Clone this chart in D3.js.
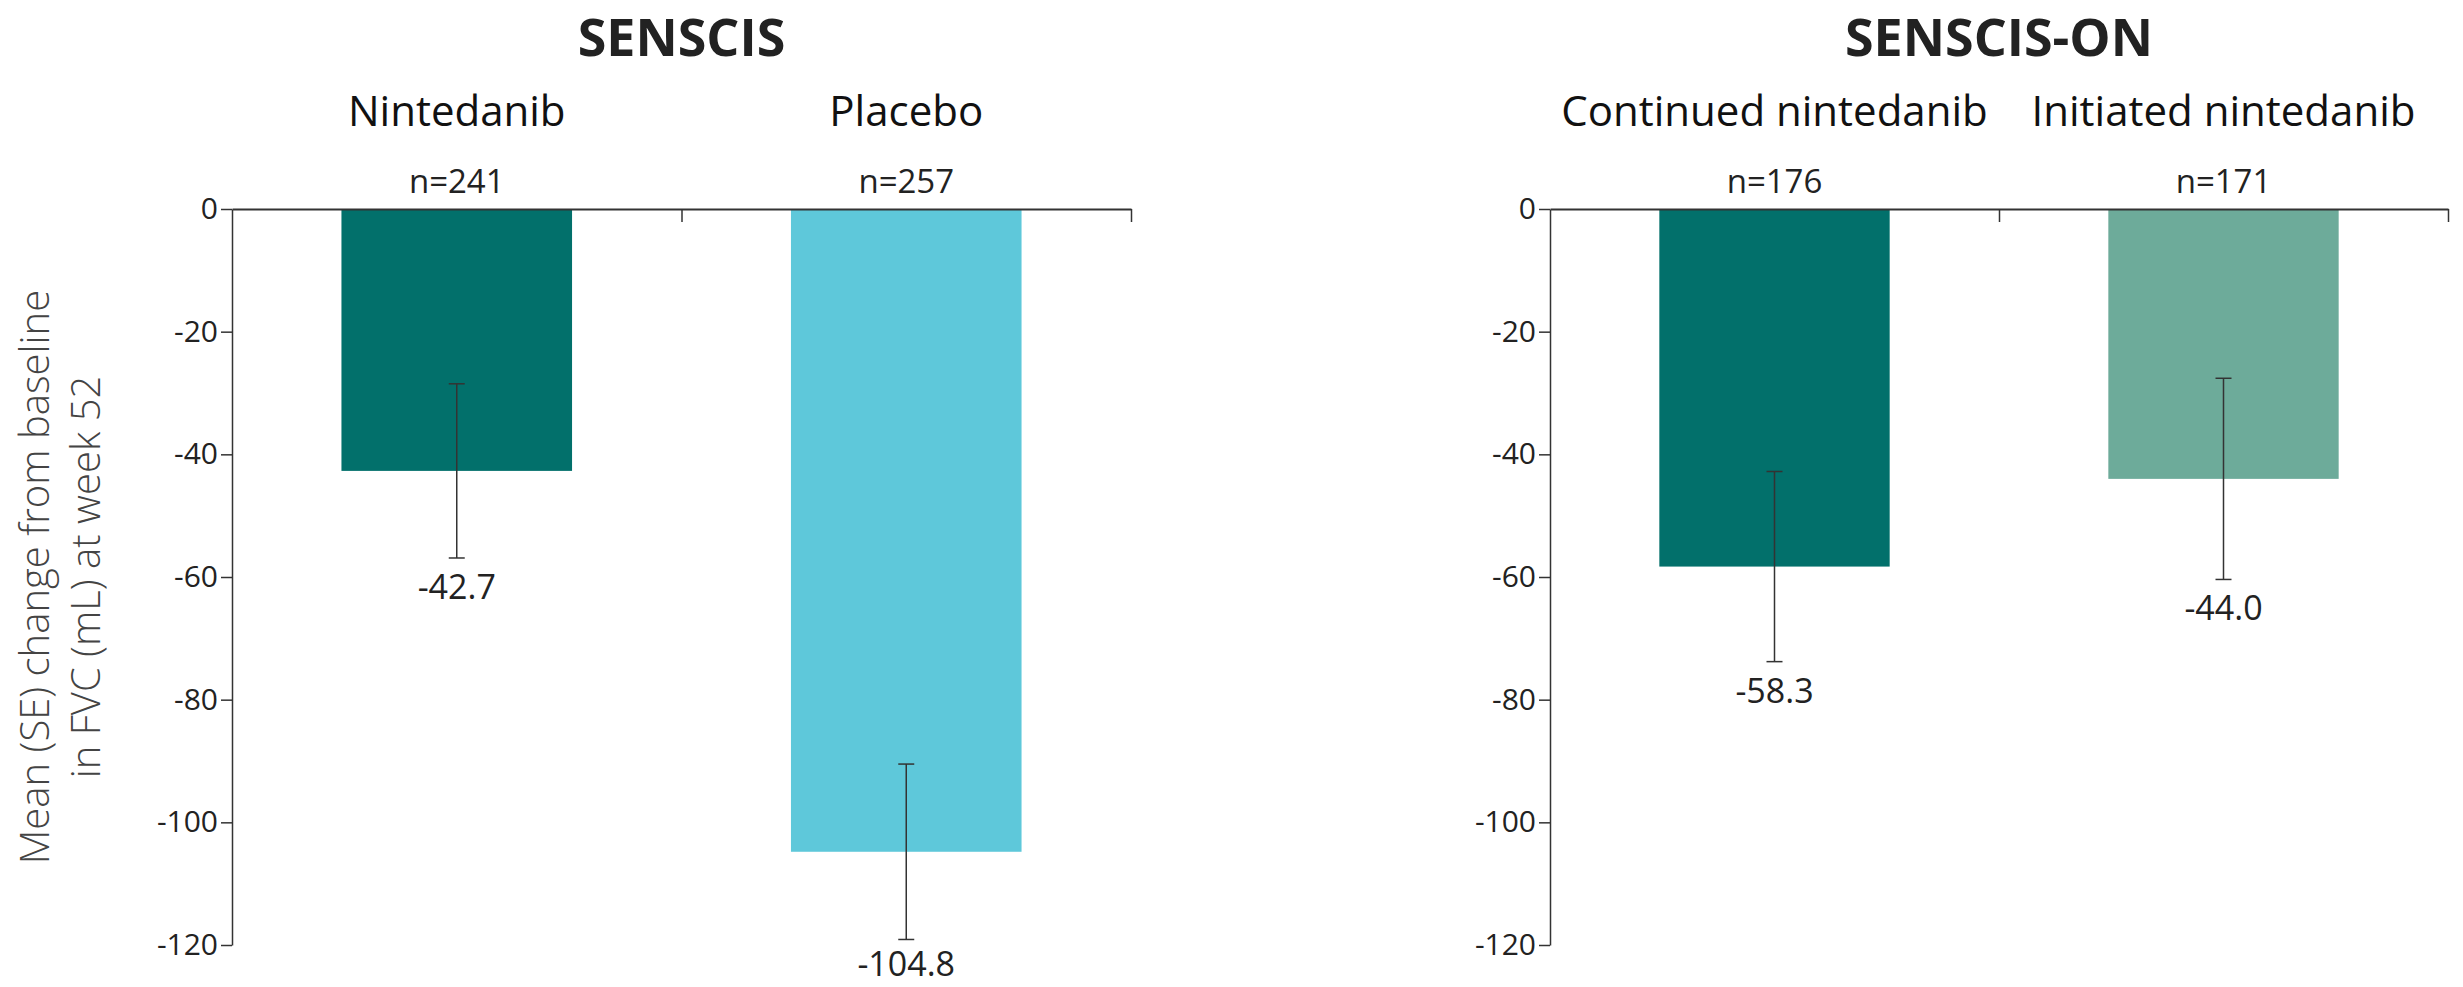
<!DOCTYPE html>
<html>
<head>
<meta charset="utf-8">
<script src="https://cdn.jsdelivr.net/npm/d3@7"></script>
<style>
  html, body { margin: 0; padding: 0; background: #fff; }
  svg { display: block; }
</style>
</head>
<body>
<svg id="chart" width="2463" height="987"></svg>
<script>
// ---- data ----
const panelTitles = ["SENSCIS", "SENSCIS-ON"];

const senscisGroups = ["Nintedanib", "Placebo"];
const senscisN = [241, 257];
const senscisMean = [-42.7, -104.8];
const senscisSE = [14.2, 14.3];

const senscisOnGroups = ["Continued nintedanib", "Initiated nintedanib"];
const senscisOnN = [176, 171];
const senscisOnMean = [-58.3, -44.0];
const senscisOnSE = [15.5, 16.4];

const yTicks = [0, -20, -40, -60, -80, -100, -120];
const yTitleLines = ["Mean (SE) change from baseline", "in FVC (mL) at week 52"];

const senscisColors = ["#02706b", "#5ec8da"];
const senscisOnColors = ["#02706b", "#6dab9a"];

// ---- layout ----
const svg = d3.select("#chart");
const axisColor = "#333";
const textColor = "#222";
const H = 987;

const y = d3.scaleLinear().domain([-120, 0]).range([945, 209]);

const panels = [
  { title: panelTitles[0], groups: senscisGroups, n: senscisN, mean: senscisMean, se: senscisSE,
    colors: senscisColors, x0: 232, x1: 1131 },
  { title: panelTitles[1], groups: senscisOnGroups, n: senscisOnN, mean: senscisOnMean, se: senscisOnSE,
    colors: senscisOnColors, x0: 1550, x1: 2448 }
];

const font = "'Open Sans', 'DejaVu Sans', sans-serif";

panels.forEach(p => {
  const g = svg.append("g");
  const rows = p.groups.map((name, i) => ({ name, n: p.n[i], mean: p.mean[i], se: p.se[i], color: p.colors[i] }));

  const x = d3.scaleBand().domain(p.groups).range([p.x0, p.x1]).padding(0);
  const barW = x.bandwidth() * 0.513;
  const xi = d3.scaleLinear().domain([0, p.groups.length]).range([p.x0, p.x1]);

  // bars
  g.selectAll("rect.bar").data(rows).join("rect")
    .attr("class", "bar")
    .attr("x", d => x(d.name) + (x.bandwidth() - barW) / 2)
    .attr("width", barW)
    .attr("y", y(0))
    .attr("height", d => y(d.mean) - y(0))
    .attr("fill", d => d.color);

  // error bars
  const eb = g.selectAll("g.err").data(rows).join("g").attr("class", "err")
    .attr("transform", d => `translate(${x(d.name) + x.bandwidth() / 2},0)`);
  eb.append("line").attr("y1", d => y(d.mean + d.se)).attr("y2", d => y(d.mean - d.se))
    .attr("stroke", axisColor).attr("stroke-width", 1.5);
  eb.selectAll("line.cap").data(d => [d.mean + d.se, d.mean - d.se]).join("line")
    .attr("class", "cap").attr("x1", -8).attr("x2", 8)
    .attr("y1", v => y(v)).attr("y2", v => y(v))
    .attr("stroke", axisColor).attr("stroke-width", 1.5);

  // value labels under the error bars (kept inside the canvas)
  g.selectAll("text.val").data(rows).join("text")
    .attr("class", "val")
    .attr("x", d => x(d.name) + x.bandwidth() / 2)
    .attr("y", d => Math.min(y(d.mean - d.se) + 41, H - 11))
    .attr("text-anchor", "middle")
    .style("font-family", font).style("font-size", "34px").attr("fill", textColor)
    .text(d => d.mean.toFixed(1));

  // y axis
  const yAxis = d3.axisLeft(y).tickValues(yTicks).tickSize(11).tickPadding(3).tickSizeOuter(0)
    .tickFormat(d => String(d));
  const ya = g.append("g").attr("transform", `translate(${p.x0},0)`).call(yAxis);
  ya.select(".domain").attr("stroke", axisColor).attr("stroke-width", 1.5);
  ya.selectAll(".tick line").attr("stroke", axisColor).attr("stroke-width", 1.5);
  ya.selectAll(".tick text").style("font-family", font).style("font-size", "30px").attr("fill", textColor);

  // zero line with band dividers
  const xAxis = d3.axisBottom(xi).tickValues(d3.range(1, p.groups.length + 1)).tickSize(13)
    .tickSizeOuter(0).tickFormat("");
  const xa = g.append("g").attr("transform", `translate(0,${y(0)})`).call(xAxis);
  xa.select(".domain").attr("stroke", axisColor).attr("stroke-width", 2);
  xa.selectAll(".tick line").attr("stroke", axisColor).attr("stroke-width", 1.5);

  // n labels
  g.selectAll("text.n").data(rows).join("text")
    .attr("class", "n")
    .attr("x", d => x(d.name) + x.bandwidth() / 2)
    .attr("y", y(0) - 16)
    .attr("text-anchor", "middle")
    .style("font-family", font).style("font-size", "33px").attr("fill", textColor)
    .text(d => `n=${d.n}`);

  // group names
  g.selectAll("text.grp").data(rows).join("text")
    .attr("class", "grp")
    .attr("x", d => x(d.name) + x.bandwidth() / 2)
    .attr("y", 126)
    .attr("text-anchor", "middle")
    .style("font-family", font).style("font-size", "42px").style("font-weight", 500).attr("fill", "#111")
    .text(d => d.name);

  // panel title
  g.append("text")
    .attr("x", (p.x0 + p.x1) / 2)
    .attr("y", 56)
    .attr("text-anchor", "middle")
    .style("font-family", font).style("font-size", "52px").style("font-weight", 700).attr("fill", "#222")
    .text(p.title);
});

// y axis title
const yt = svg.append("text")
  .attr("transform", `translate(0,${(y(0) + y(-120)) / 2}) rotate(-90)`)
  .attr("text-anchor", "middle")
  .style("font-family", font).style("font-size", "40px").style("font-weight", 300).attr("fill", "#444");
yt.selectAll("tspan").data(yTitleLines).join("tspan")
  .attr("x", 0)
  .attr("y", (d, i) => 49 + i * 51)
  .text(d => d);
</script>
</body>
</html>
